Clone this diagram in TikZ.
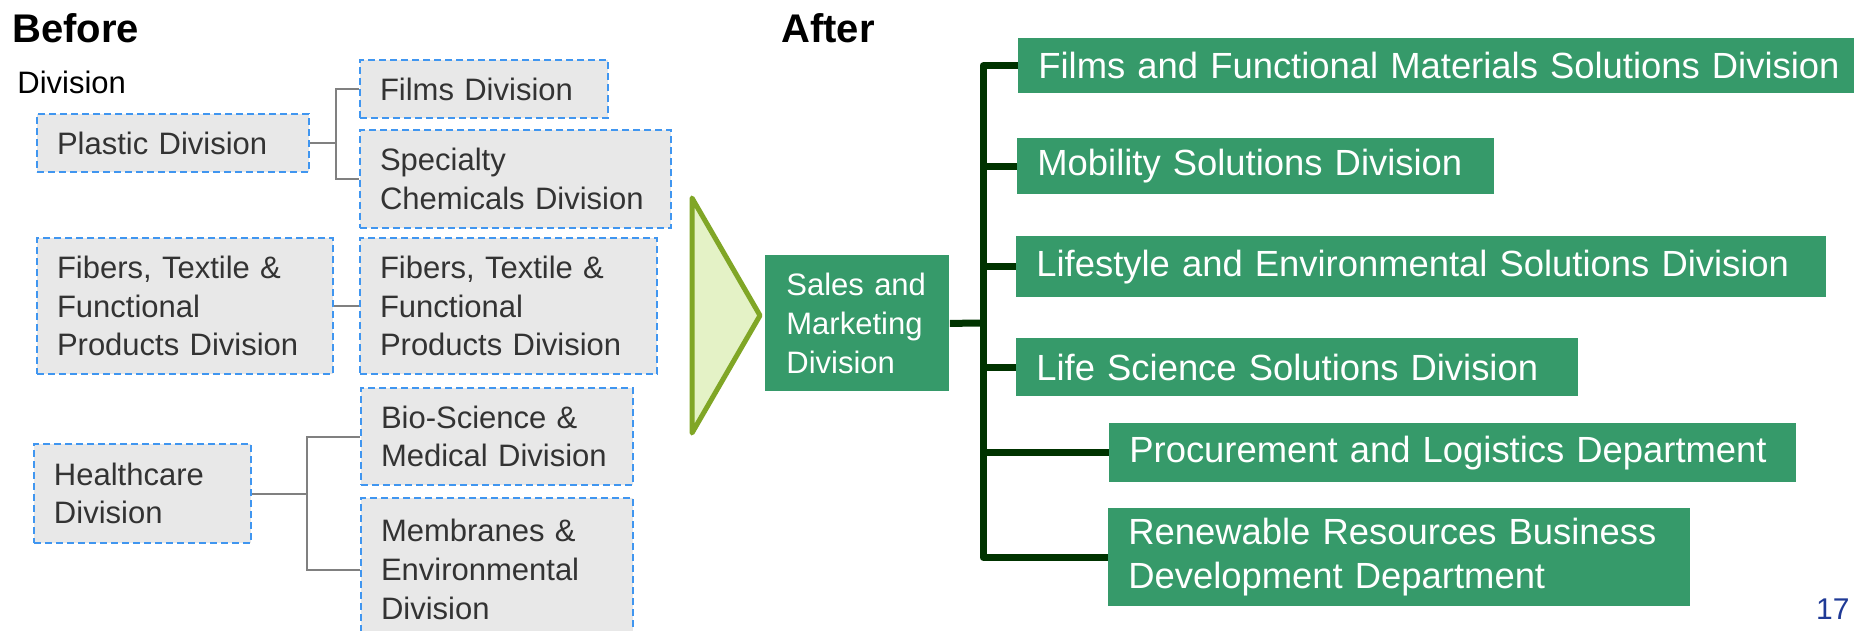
\documentclass[tikz,border=0pt]{standalone}
\usepackage{fontspec}
\setmainfont{Liberation Sans}
\definecolor{oldfill}{RGB}{232,232,232}
\definecolor{olddash}{RGB}{64,150,240}
\definecolor{oldtext}{RGB}{51,51,51}
\definecolor{newfill}{RGB}{54,154,106}
\definecolor{trunkgreen}{RGB}{0,51,0}
\definecolor{arrowedge}{RGB}{128,166,38}
\definecolor{arrowfill}{RGB}{228,242,198}
\definecolor{pageblue}{RGB}{31,58,150}
\tikzset{
  oldbox/.style={draw=olddash, dash pattern=on 3.5pt off 2pt, line width=1pt, fill=oldfill, text=oldtext,
    anchor=north west, align=left, inner xsep=10pt, inner ysep=0pt, font=\fontsize{15.5pt}{19.3pt}\selectfont},
  newbox/.style={fill=newfill, text=white, anchor=north west, align=left, inner xsep=10pt, inner ysep=0pt,
    font=\fontsize{18.2pt}{22pt}\selectfont, execute at begin node={\hyphenpenalty=10000\relax}},
  oldlink/.style={draw=gray, line width=1pt},
  trunk/.style={draw=trunkgreen, line width=3.5pt, line join=round},
  heading/.style={anchor=base west, inner sep=0pt, font=\fontsize{20pt}{24pt}\selectfont\bfseries}
}
\begin{document}
\begin{tikzpicture}[x=0.5pt, y=-0.5pt]
\useasboundingbox (0,0) rectangle (1854,631);
\clip (0,0) rectangle (1854,631);

\node[heading] (before) at (12,43) {Before};
\node[heading] (after) at (781,43) {After};
\node[anchor=base west, inner sep=0pt, font=\fontsize{15.5pt}{19pt}\selectfont] (unit) at (17,94) {Division};

% old organisation
\node[oldbox, text width=116pt, minimum height=29pt] (plastic) at (36,113) {Plastic Division};
\node[oldbox, text width=104pt, minimum height=29pt] (films) at (359,59) {Films Division};
\node[oldbox, text width=135.5pt, minimum height=49pt] (specialty) at (359,129) {Specialty\\Chemicals Division};
\node[oldbox, text width=128pt, minimum height=68pt] (fibersA) at (36,237) {Fibers, Textile \&\\Functional\\Products Division};
\node[oldbox, text width=128.5pt, minimum height=68pt] (fibersB) at (359,237) {Fibers, Textile \&\\Functional\\Products Division};
\node[oldbox, text width=88.5pt, minimum height=49.5pt] (health) at (33,443) {Healthcare\\Division};
\node[oldbox, text width=116pt, minimum height=48.5pt] (bio) at (360,387) {Bio-Science \&\\Medical Division};
\node[oldbox, text width=116pt, minimum height=71.5pt] (membrane) at (360,497) {Membranes \&\\Environmental\\Division};

\draw[oldlink] (plastic.east) -- ++(26,0) coordinate (plasticfork) |- (films.west);
\draw[oldlink] (plasticfork) |- (specialty.west);
\draw[oldlink] (fibersA.east) -- (fibersB.west);
\draw[oldlink] (health.east) -- ++(55,0) coordinate (healthfork) |- (bio.west);
\draw[oldlink] (healthfork) |- (membrane.west);

\draw[line width=2.5pt, line join=round, draw=arrowedge, fill=arrowfill] (692,198) -- (760,315.5) -- (692,433) -- cycle;

% new organisation
\node[newbox, font=\fontsize{15.5pt}{19.5pt}\selectfont, inner xsep=10.5pt, text width=71pt, minimum height=68pt] (sales) at (765,255) {Sales and\\Marketing\\Division};

\node[newbox, text width=408pt, minimum height=27.5pt] (filmsnew) at (1018,38) {Films and Functional Materials Solutions Division};
\node[newbox, text width=218.5pt, minimum height=28pt] (mobility) at (1017,138) {Mobility Solutions Division};
\node[newbox, text width=385pt, minimum height=30.5pt] (lifestyle) at (1016,236) {Lifestyle and Environmental Solutions Division};
\node[newbox, text width=261pt, minimum height=29pt] (lifesci) at (1016,338) {Life Science Solutions Division};
\node[newbox, text width=323.5pt, minimum height=29.5pt] (procure) at (1109,423) {Procurement and Logistics Department};
\node[newbox, text width=271pt, minimum height=49pt] (renew) at (1108,508) {Renewable Resources Business\\Development Department};

\coordinate (bus) at (983,323);
\draw[trunk] (sales.east) -- (bus);
\foreach \n in {filmsnew,mobility,lifestyle,lifesci,procure,renew}
  \draw[trunk] (bus) |- (\n.west);

\node[anchor=base east, inner sep=0pt, text=pageblue, font=\fontsize{15pt}{18pt}\selectfont] (page) at (1850,619) {17};
\end{tikzpicture}
\end{document}
